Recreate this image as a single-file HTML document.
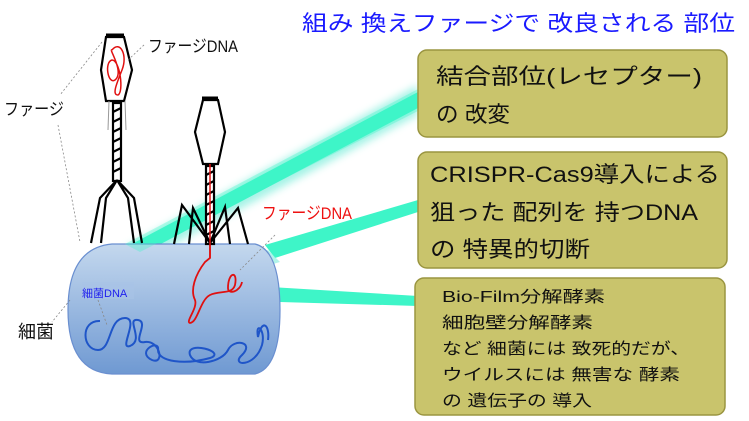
<!DOCTYPE html>
<html><head><meta charset="utf-8"><style>
body{margin:0;width:749px;height:421px;background:#fff;overflow:hidden;font-family:"Liberation Sans","Noto Sans CJK JP",sans-serif}
</style></head><body>
<svg width="749" height="421" viewBox="0 0 749 421" xmlns="http://www.w3.org/2000/svg" style="position:absolute;left:0;top:0">
<defs>
<linearGradient id="bg" x1="0" y1="0" x2="0" y2="1"><stop offset="0" stop-color="#c4d8ee"/><stop offset="1" stop-color="#6f99d2"/></linearGradient>
<filter id="gl"><feGaussianBlur stdDeviation="4"/></filter>
</defs>
<text x="302" y="31" font-size="22" fill="#1a1aff" textLength="433" lengthAdjust="spacingAndGlyphs">組み 換えファージで 改良される 部位</text>
<!-- beams -->
<polygon points="125,248 418,85 418,115 140,262" fill="#8ff0e0" filter="url(#gl)" opacity="0.8"/>
<polygon points="130,245 418,92 418,108 138,256" fill="#3ef5c8"/>
<polygon points="265,245 418,200 418,212 275,258" fill="#3ef5c8"/>
<polygon points="238,268 268,250 280,262 245,272" fill="#8ff0e0" opacity="0.7"/>
<polygon points="238,285 418,296 418,306 280,302" fill="#3ef5c8"/>
<!-- bacterium -->
<path d="M112,244 L255,244 Q280,250 280,310 Q280,368 255,374 L112,374 Q68,372 68,310 Q68,248 112,244 Z" fill="url(#bg)" stroke="#6a8fd0" stroke-width="1.2"/>
<polygon points="125,244 418,89 418,111 140,252" fill="#3ef5c8" opacity="0.35"/>
<rect x="82" y="282" width="52" height="17" fill="#a9c3e6" opacity="0.6"/>
<text x="82" y="297" font-size="11" fill="#2020ee">細菌DNA</text>
<path d="M100,321 C80,320 82,350 98,350 C112,350 108,318 125,318 C140,318 118,350 130,346 C145,340 125,318 138,320 C150,322 130,345 145,342 C160,340 165,365 152,360 C135,352 160,338 158,350 C158,362 185,365 210,358 C228,352 185,340 190,355 C195,368 222,362 228,350 C234,338 255,342 242,355 C230,366 255,368 262,345 C266,330 255,320 258,337 C262,318 270,325 268,340" fill="none" stroke="#1f55c8" stroke-width="2"/>
<path d="M210,244 L210,258 L205,262 C195,275 190,290 195,300 C198,308 185,322 190,323 C198,322 200,300 210,295 C220,290 232,295 235,285 C238,270 228,272 228,288 C228,295 240,292 242,282" fill="none" stroke="#e01010" stroke-width="1.8"/>
<!-- phage 1 -->
<g stroke="#000" stroke-width="2.2" fill="none">
<line x1="106" y1="35" x2="124" y2="35" stroke-width="3"/>
<polygon points="106,37 124,37 132,70 124,101 106,101 101,70" fill="#fff"/>
<rect x="113" y="103" width="8" height="78" fill="#fff"/>
<path d="M113,112 L121,108 M113,122 L121,118 M113,132 L121,128 M113,142 L121,138 M113,152 L121,148 M113,162 L121,158 M113,172 L121,168"/>
<path d="M117,180 L100,198 L91,243 M117,180 L106,198 L101,243 M117,180 L134,198 L142,243 M117,180 L128,198 L134,243"/>
<line x1="109" y1="101" x2="108" y2="130" stroke="#999" stroke-width="1"/>
<line x1="125" y1="101" x2="126" y2="130" stroke="#999" stroke-width="1"/>
</g>
<path d="M112,50 C120,40 128,55 122,70 C116,85 112,95 118,95 C124,92 120,60 112,60 C104,62 108,85 115,80 C125,72 108,48 112,50" fill="none" stroke="#e01010" stroke-width="1.5"/>
<!-- phage 2 -->
<g stroke="#000" stroke-width="2.2" fill="none">
<line x1="202" y1="98" x2="218" y2="98" stroke-width="3"/>
<polygon points="203,100 218,100 225,132 218,164 203,164 195,132" fill="#fff"/>
<rect x="206" y="166" width="8" height="78" fill="#fff"/>
<path d="M206,175 L214,171 M206,185 L214,181 M206,195 L214,191 M206,205 L214,201 M206,215 L214,211 M206,225 L214,221 M206,235 L214,231"/>
<path d="M210,243 L182,205 L174,244 M210,243 L193,208 L189,244 M210,243 L225,207 L230,244 M210,243 L238,208 L248,244"/>
</g>
<line x1="210" y1="164" x2="210" y2="258" stroke="#e01010" stroke-width="1.5"/>
<!-- labels & leaders -->
<g stroke="#888" stroke-width="0.8" stroke-dasharray="2,2" fill="none">
<path d="M102,42 L60,95"/><path d="M58,125 L80,242"/><path d="M128,60 L145,44"/>
<path d="M70,300 L52,322"/><path d="M275,235 L240,270"/><path d="M98,300 L107,325"/>
</g>
<text x="148" y="52" font-size="17" fill="#111" textLength="90" lengthAdjust="spacingAndGlyphs">ファージDNA</text>
<text x="4" y="115" font-size="17" fill="#111" textLength="60" lengthAdjust="spacingAndGlyphs">ファージ</text>
<text x="262" y="219" font-size="17" fill="#ee1111" textLength="90" lengthAdjust="spacingAndGlyphs">ファージDNA</text>
<text x="18" y="338" font-size="18" fill="#111">細菌</text>
<!-- boxes -->
<g fill="#c9c46c" stroke="#9a9540" stroke-width="1.5">
<rect x="418" y="50" width="309" height="87" rx="9"/>
<rect x="418" y="152" width="309" height="116" rx="9"/>
<rect x="415" y="278" width="310" height="137" rx="9"/>
</g>
<g font-size="22" fill="#111" lengthAdjust="spacingAndGlyphs">
<text x="436" y="84" textLength="266" lengthAdjust="spacingAndGlyphs">結合部位(レセプター)</text>
<text x="436" y="122" textLength="74" lengthAdjust="spacingAndGlyphs">の 改変</text>
<text x="430" y="182" textLength="290" lengthAdjust="spacingAndGlyphs">CRISPR-Cas9導入による</text>
<text x="430" y="220" textLength="268" lengthAdjust="spacingAndGlyphs">狙った 配列を 持つDNA</text>
<text x="430" y="257" textLength="160" lengthAdjust="spacingAndGlyphs">の 特異的切断</text>
</g>
<g font-size="16" fill="#111">
<text x="442" y="302" textLength="163" lengthAdjust="spacingAndGlyphs">Bio-Film分解酵素</text>
<text x="442" y="328" textLength="151" lengthAdjust="spacingAndGlyphs">細胞壁分解酵素</text>
<text x="442" y="354" textLength="248" lengthAdjust="spacingAndGlyphs">など 細菌には 致死的だが、</text>
<text x="442" y="380" textLength="238" lengthAdjust="spacingAndGlyphs">ウイルスには 無害な 酵素</text>
<text x="442" y="406" textLength="150" lengthAdjust="spacingAndGlyphs">の 遺伝子の 導入</text>
</g>
</svg>
</body></html>
